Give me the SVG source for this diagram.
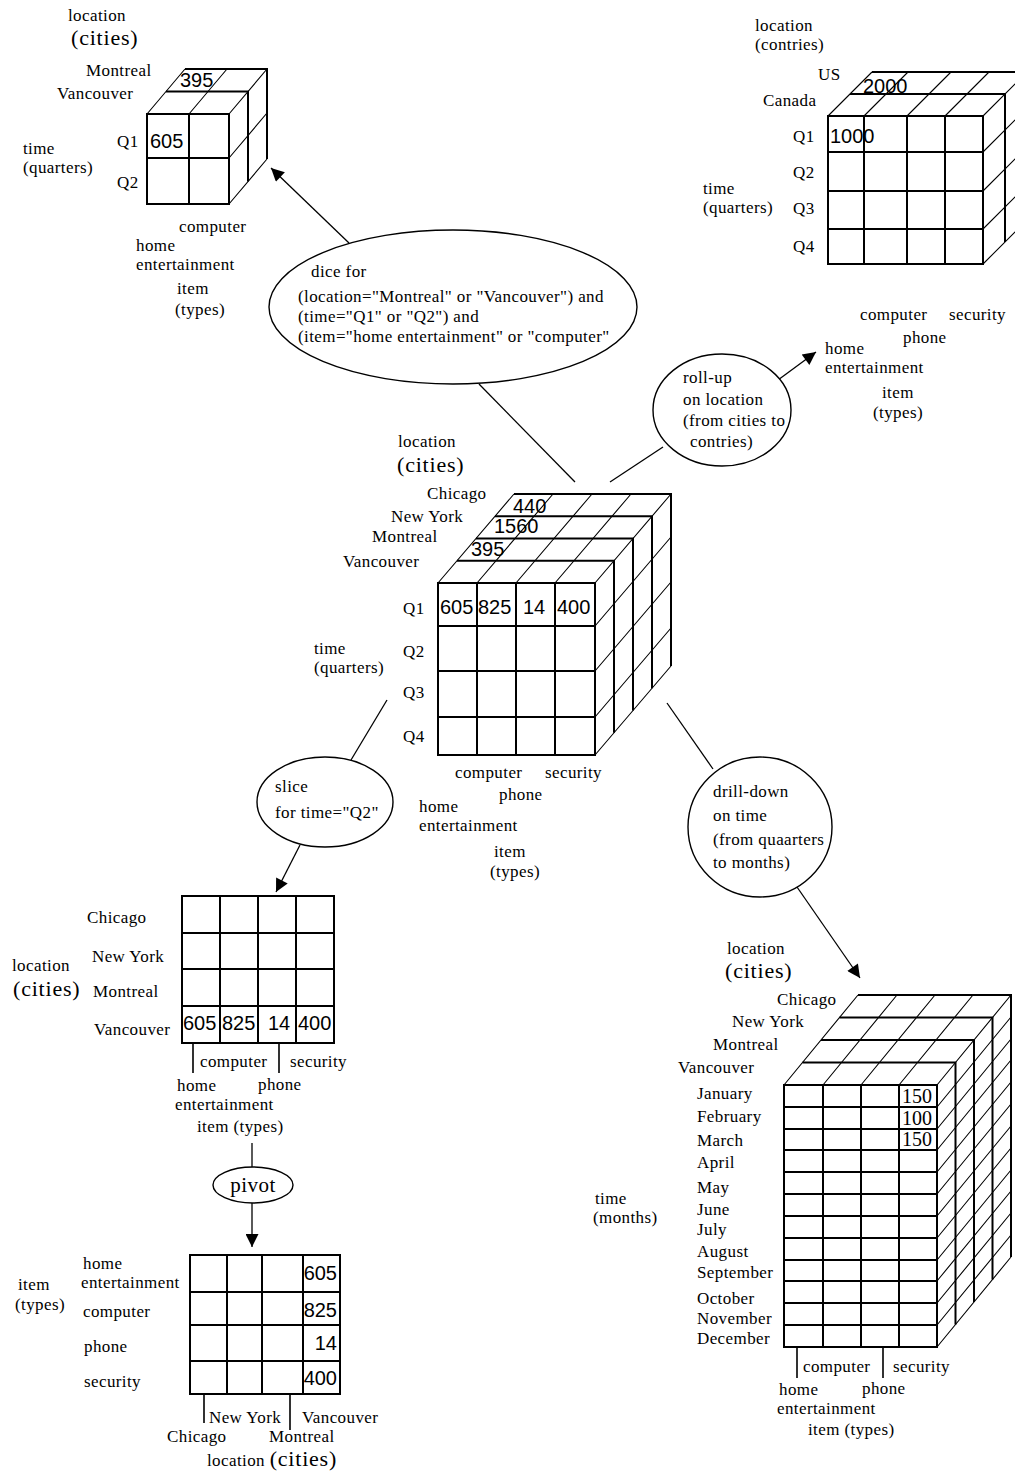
<svg xmlns="http://www.w3.org/2000/svg" width="1015" height="1475" viewBox="0 0 1015 1475">
<style>
.g{stroke:#000;stroke-width:2;fill:none}
.d{stroke:#000;stroke-width:1.1;fill:none}
.tk{stroke:#000;stroke-width:1.6;fill:none}
.e{stroke:#000;stroke-width:1.4;fill:#fff}
.c{stroke:#000;stroke-width:1.3;fill:none}
text{font-family:"Liberation Serif","Times New Roman",serif;font-size:17px;letter-spacing:0.4px;fill:#000}
.big{font-size:22px;letter-spacing:0.8px}
.num{font-family:"Liberation Sans",Arial,sans-serif;font-size:20px;letter-spacing:0}
.nums{font-family:"Liberation Serif",serif;font-size:20px;letter-spacing:0}
.piv{font-size:21px;letter-spacing:0.5px}
</style>
<defs>
<marker id="ah" viewBox="0 0 10 10" refX="10" refY="5" markerWidth="15" markerHeight="13" markerUnits="userSpaceOnUse" orient="auto">
<path d="M0,0 L10,5 L0,10 z" fill="#000"/>
</marker>
</defs>

<g id="connectors">
<line class="c" x1="349" y1="243" x2="271" y2="168" marker-end="url(#ah)"/>
<line class="c" x1="575" y1="482" x2="479" y2="384"/>
<line class="c" x1="610" y1="482" x2="663" y2="447"/>
<line class="c" x1="778" y1="380" x2="816" y2="352" marker-end="url(#ah)"/>
<line class="c" x1="387" y1="700" x2="351" y2="760"/>
<line class="c" x1="300" y1="845" x2="276" y2="892" marker-end="url(#ah)"/>
<line class="c" x1="667" y1="703" x2="713" y2="769"/>
<line class="c" x1="797" y1="887" x2="860" y2="978" marker-end="url(#ah)"/>
<line class="c" x1="252" y1="1143" x2="252" y2="1167"/>
<line class="c" x1="252" y1="1203" x2="252" y2="1247" marker-end="url(#ah)"/>
</g>

<g id="dice-cube">
<path class="g" d="M147,114 H229 V204 H147 Z M189,114 V204 M147,158 H229 M166,91.5 H248 V181.5 M185,69 H267 V159"/>
<path class="d" d="M147,114 L185,69 M189,114 L227,69 M229,114 L267,69 M229,158 L267,113 M229,204 L267,159"/>
<text x="68" y="21">location</text>
<text class="big" x="71" y="45">(cities)</text>
<text x="86" y="76">Montreal</text>
<text x="57" y="99">Vancouver</text>
<text x="117" y="147">Q1</text>
<text x="117" y="188">Q2</text>
<text x="23" y="154">time</text>
<text x="23" y="173">(quarters)</text>
<text x="179" y="232">computer</text>
<text x="136" y="251">home</text>
<text x="136" y="270">entertainment</text>
<text x="177" y="294">item</text>
<text x="175" y="315">(types)</text>
<text class="num" x="180" y="87">395</text>
<text class="num" x="150" y="148">605</text>
</g>

<g id="rollup-cube">
<path class="g" d="M828,116 H983 V264 H828 Z M864,116 V264 M907,116 V264 M945,116 V264 M828,152 H983 M828,191 H983 M828,229 H983 M850,94 H1005 V242 M872,72 H1027 V220"/>
<path class="d" d="M828,116 L872,72 M864,116 L908,72 M907,116 L951,72 M945,116 L989,72 M983,116 L1027,72 M983,152 L1027,108 M983,191 L1027,147 M983,229 L1027,185 M983,264 L1027,220"/>
<text x="755" y="31">location</text>
<text x="755" y="50">(contries)</text>
<text x="818" y="80">US</text>
<text x="763" y="106">Canada</text>
<text x="793" y="142">Q1</text>
<text x="793" y="178">Q2</text>
<text x="793" y="214">Q3</text>
<text x="793" y="252">Q4</text>
<text x="703" y="194">time</text>
<text x="703" y="213">(quarters)</text>
<text x="860" y="320">computer</text>
<text x="949" y="320">security</text>
<text x="903" y="343">phone</text>
<text x="825" y="354">home</text>
<text x="825" y="373">entertainment</text>
<text x="882" y="398">item</text>
<text x="873" y="418">(types)</text>
<text class="num" x="863" y="93">2000</text>
<text class="num" x="830" y="143">1000</text>
</g>

<g id="dice-op">
<ellipse class="e" cx="453" cy="307" rx="184" ry="77"/>
<text x="311" y="277">dice  for</text>
<text x="298" y="302">(location="Montreal" or "Vancouver") and</text>
<text x="298" y="322">(time="Q1" or "Q2") and</text>
<text x="298" y="342">(item="home entertainment" or "computer"</text>
</g>

<g id="rollup-op">
<ellipse class="e" cx="722" cy="410" rx="69" ry="56"/>
<text x="683" y="383">roll-up</text>
<text x="683" y="405">on location</text>
<text x="683" y="426">(from cities to</text>
<text x="690" y="447">contries)</text>
</g>

<g id="center-cube">
<path class="g" d="M438,583 H595 V755 H438 Z M477,583 V755 M516,583 V755 M555,583 V755 M438,626 H595 M438,671 H595 M438,717 H595 M457,560.75 H614 V732.75 M476,538.5 H633 V710.5 M495,516.25 H652 V688.25 M514,494 H671 V666"/>
<path class="d" d="M438,583 L514,494 M477,583 L553,494 M516,583 L592,494 M555,583 L631,494 M595,583 L671,494 M595,626 L671,537 M595,671 L671,582 M595,717 L671,628 M595,755 L671,666"/>
<text x="398" y="447">location</text>
<text class="big" x="397" y="472">(cities)</text>
<text x="427" y="499">Chicago</text>
<text x="391" y="522">New York</text>
<text x="372" y="542">Montreal</text>
<text x="343" y="567">Vancouver</text>
<text x="403" y="614">Q1</text>
<text x="403" y="657">Q2</text>
<text x="403" y="698">Q3</text>
<text x="403" y="742">Q4</text>
<text x="314" y="654">time</text>
<text x="314" y="673">(quarters)</text>
<text x="455" y="778">computer</text>
<text x="545" y="778">security</text>
<text x="499" y="800">phone</text>
<text x="419" y="812">home</text>
<text x="419" y="831">entertainment</text>
<text x="494" y="857">item</text>
<text x="490" y="877">(types)</text>
<text class="num" x="513" y="513">440</text>
<text class="num" x="494" y="533">1560</text>
<text class="num" x="471" y="556">395</text>
<text class="num" x="440" y="614">605</text>
<text class="num" x="478" y="614">825</text>
<text class="num" x="523" y="614">14</text>
<text class="num" x="557" y="614">400</text>
</g>

<g id="slice-op">
<ellipse class="e" cx="325" cy="802" rx="68" ry="45"/>
<text x="275" y="792">slice</text>
<text x="275" y="818">for time="Q2"</text>
</g>

<g id="drill-op">
<ellipse class="e" cx="760" cy="827" rx="72" ry="70"/>
<text x="713" y="797">drill-down</text>
<text x="713" y="821">on time</text>
<text x="713" y="845">(from quaarters</text>
<text x="713" y="868">to months)</text>
</g>

<g id="slice-table">
<path class="g" d="M182,896 H334 V1043 H182 Z M220,896 V1043 M258,896 V1043 M296,896 V1043 M182,933 H334 M182,969 H334 M182,1006 H334"/>
<path class="tk" d="M193,1043 V1073 M279,1043 V1073"/>
<text x="87" y="923">Chicago</text>
<text x="92" y="962">New York</text>
<text x="93" y="997">Montreal</text>
<text x="94" y="1035">Vancouver</text>
<text x="12" y="971">location</text>
<text class="big" x="13" y="996">(cities)</text>
<text class="num" x="183" y="1030">605</text>
<text class="num" x="222" y="1030">825</text>
<text class="num" x="268" y="1030">14</text>
<text class="num" x="298" y="1030">400</text>
<text x="200" y="1067">computer</text>
<text x="290" y="1067">security</text>
<text x="177" y="1091">home</text>
<text x="258" y="1090">phone</text>
<text x="175" y="1110">entertainment</text>
<text x="197" y="1132">item (types)</text>
</g>

<g id="pivot-op">
<ellipse class="e" cx="253" cy="1185" rx="40" ry="18"/>
<text class="piv" x="253" y="1192" text-anchor="middle">pivot</text>
</g>

<g id="pivot-table">
<path class="g" d="M190,1255 H340 V1394 H190 Z M227,1255 V1394 M262,1255 V1394 M303,1255 V1394 M190,1292 H340 M190,1325 H340 M190,1361 H340"/>
<path class="tk" d="M204,1394 V1423 M290,1394 V1430"/>
<text x="83" y="1269">home</text>
<text x="81" y="1288">entertainment</text>
<text x="83" y="1317">computer</text>
<text x="84" y="1352">phone</text>
<text x="84" y="1387">security</text>
<text x="18" y="1290">item</text>
<text x="15" y="1310">(types)</text>
<text class="num" x="337" y="1280" text-anchor="end">605</text>
<text class="num" x="337" y="1317" text-anchor="end">825</text>
<text class="num" x="337" y="1350" text-anchor="end">14</text>
<text class="num" x="337" y="1385" text-anchor="end">400</text>
<text x="209" y="1423">New York</text>
<text x="302" y="1423">Vancouver</text>
<text x="167" y="1442">Chicago</text>
<text x="269" y="1442">Montreal</text>
<text x="207" y="1466">location <tspan class="big">(cities)</tspan></text>
</g>

<g id="drill-cube">
<path class="g" d="M784,1085 H937 V1347 H784 Z M823,1085 V1347 M861,1085 V1347 M899,1085 V1347 M784,1107 H937 M784,1129 H937 M784,1150 H937 M784,1172 H937 M784,1194 H937 M784,1216 H937 M784,1238 H937 M784,1260 H937 M784,1281 H937 M784,1303 H937 M784,1325 H937 M802.5,1062.5 H955.5 V1324.5 M821,1040 H974 V1302 M839.5,1017.5 H992.5 V1279.5 M858,995 H1011 V1257"/>
<path class="d" d="M784,1085 L858,995 M823,1085 L897,995 M861,1085 L935,995 M899,1085 L973,995 M937,1085 L1011,995 M937,1107 L1011,1017 M937,1129 L1011,1039 M937,1150 L1011,1060 M937,1172 L1011,1082 M937,1194 L1011,1104 M937,1216 L1011,1126 M937,1238 L1011,1148 M937,1260 L1011,1170 M937,1281 L1011,1191 M937,1303 L1011,1213 M937,1325 L1011,1235 M937,1347 L1011,1257"/>
<path class="tk" d="M797,1347 V1378 M883,1347 V1378"/>
<text x="727" y="954">location</text>
<text class="big" x="725" y="978">(cities)</text>
<text x="777" y="1005">Chicago</text>
<text x="732" y="1027">New York</text>
<text x="713" y="1050">Montreal</text>
<text x="678" y="1073">Vancouver</text>
<text x="697" y="1099">January</text>
<text x="697" y="1122">February</text>
<text x="697" y="1146">March</text>
<text x="697" y="1168">April</text>
<text x="697" y="1193">May</text>
<text x="697" y="1215">June</text>
<text x="697" y="1235">July</text>
<text x="697" y="1257">August</text>
<text x="697" y="1278">September</text>
<text x="697" y="1304">October</text>
<text x="697" y="1324">November</text>
<text x="697" y="1344">December</text>
<text x="595" y="1204">time</text>
<text x="593" y="1223">(months)</text>
<text class="nums" x="902" y="1103">150</text>
<text class="nums" x="902" y="1125">100</text>
<text class="nums" x="902" y="1146">150</text>
<text x="803" y="1372">computer</text>
<text x="893" y="1372">security</text>
<text x="862" y="1394">phone</text>
<text x="779" y="1395">home</text>
<text x="777" y="1414">entertainment</text>
<text x="808" y="1435">item (types)</text>
</g>
</svg>
